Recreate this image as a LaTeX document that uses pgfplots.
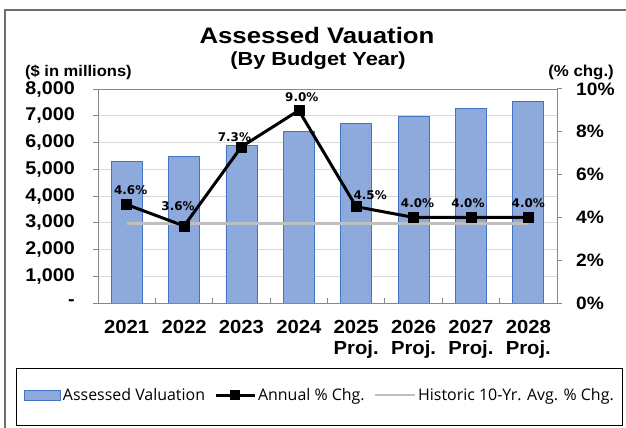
\documentclass[border=0pt]{standalone}
\usepackage{pgfplots}
\pgfplotsset{compat=1.18}
\usepackage{pgfplotstable}
\usepackage{fontspec}
\setmainfont{Liberation Sans}
\newfontfamily\tfont{Liberation Sans}[FakeStretch=1.15]
\newfontfamily\tkfont{Liberation Sans}[FakeStretch=1.07]
\newfontfamily\lblfont{DejaVu Sans}
\newfontfamily\legfont{Open Sans}
\definecolor{barfill}{RGB}{142,169,219}
\definecolor{barline}{RGB}{68,114,196}
\definecolor{axgray}{RGB}{134,134,134}
\definecolor{gridgray}{RGB}{217,217,217}
\definecolor{histgray}{RGB}{191,191,191}
\definecolor{framegray}{RGB}{110,110,110}

\pgfplotstableread{
x val
0 5300
1 5490
2 5890
3 6420
4 6710
5 6980
6 7260
7 7550
}\bars

\pgfplotstableread{
x pct dx dy
0 4.6 4 14
1 3.6 -6 20
2 7.3 -7 10
3 9.0 3 13
4 4.5 14 12
5 4.0 4 14
6 4.0 -3 14
7 4.0 0 14
}\pcts

\pgfplotstableread{
x h
0 3.7
1 3.7
2 3.7
3 3.7
4 3.7
5 3.7
6 3.7
7 3.7
}\hist

\begin{document}
\begin{tikzpicture}[x=1bp,y=1bp]
\useasboundingbox (0,0) rectangle (626,427);
\draw[framegray, line width=2.5bp] (5,-10) -- (5,417) -- (640,417);

\node[font=\tfont\bfseries\fontsize{22.5}{27}\selectfont] at (317,392) {Assessed Vauation};
\node[font=\tfont\bfseries\fontsize{19}{23}\selectfont] at (318,366) {(By Budget Year)};
\node[font=\tkfont\bfseries\fontsize{15.5}{18}\selectfont, anchor=west, inner sep=0pt] at (25,355) {(\$ in millions)};
\node[font=\tkfont\bfseries\fontsize{15.8}{18}\selectfont, anchor=east, inner sep=0pt] at (614,355) {(\% chg.)};

\begin{axis}[
  at={(98bp,124bp)}, anchor=south west,
  scale only axis, width=459bp, height=214bp,
  xmin=-0.5, xmax=7.5, ymin=0, ymax=8000,
  axis line style={axgray, line width=1bp},
  tick style={axgray, line width=1bp},
  tick align=outside, major tick length=5bp,
  xtick pos=bottom, ytick pos=left,
  ytick={0,1000,...,8000},
  yticklabels={-,{1,000},{2,000},{3,000},{4,000},{5,000},{6,000},{7,000},{8,000}},
  ymajorgrids, major grid style={gridgray, line width=0.9bp},
  xtick={0,...,7},
  xticklabels={2021,2022,2023,2024,{2025\\Proj.},{2026\\Proj.},{2027\\Proj.},{2028\\Proj.}},
  major x tick style={draw=none},
  xticklabel style={font=\tkfont\bfseries\fontsize{19}{21}\selectfont, align=center, anchor=north, inner sep=0pt, yshift=-12bp},
  yticklabel style={font=\tkfont\bfseries\fontsize{18.5}{20}\selectfont, anchor=east, inner sep=0pt, xshift=-18bp},
]
\addplot[ybar, bar width=31bp, fill=barfill, draw=barline, line width=0.7bp] table[x=x,y=val]{\bars};
\end{axis}

% inward category separator ticks on the x axis
\begin{axis}[
  at={(98bp,124bp)}, anchor=south west,
  scale only axis, width=459bp, height=214bp,
  xmin=-0.5, xmax=7.5, ymin=0, ymax=8000,
  axis x line*=bottom, axis y line=none,
  axis line style={axgray, line width=1bp, -},
  tick style={axgray, line width=1bp},
  tick align=inside, major tick length=5.5bp,
  xtick={0.5,1.5,...,6.5}, xticklabels={},
]
\end{axis}

\begin{axis}[
  at={(98bp,124bp)}, anchor=south west,
  scale only axis, width=459bp, height=214bp,
  xmin=-0.5, xmax=7.5, ymin=0, ymax=10,
  axis x line=none, axis y line*=right,
  axis line style={axgray, line width=1bp},
  tick style={axgray, line width=1bp},
  tick align=outside, major tick length=5bp,
  ytick={0,2,...,10},
  yticklabels={0\%,2\%,4\%,6\%,8\%,10\%},
  yticklabel style={font=\tkfont\bfseries\fontsize{18}{20}\selectfont, anchor=west, inner sep=0pt, xshift=14bp},
  clip=false,
  legend columns=-1,
  legend style={at={(-0.1613,-0.4299)}, anchor=west, draw=none, fill=none, inner sep=0pt,
    font=\legfont\fontsize{16}{19}\selectfont,
    nodes={inner sep=2bp},
    /tikz/every even column/.append style={column sep=7bp}},
  legend cell align=left,
]
\addlegendimage{legend image code/.code={\draw[fill=barfill, draw=barline, line width=0.8bp] (0bp,-5bp) rectangle (36bp,5bp);}}
\addlegendentry{Assessed Valuation}
\addlegendimage{legend image code/.code={\draw[black, line width=3bp] (0bp,0bp) -- (39bp,0bp); \fill[black] (15bp,-4.5bp) rectangle (24bp,4.5bp);}}
\addlegendentry{Annual \% Chg.}
\addlegendimage{legend image code/.code={\draw[histgray, line width=2.5bp] (0bp,0bp) -- (40bp,0bp);}}
\addlegendentry{Historic 10-Yr. Avg. \% Chg.}

\addplot[forget plot, histgray, line width=3bp] table[x=x,y=h]{\hist};
\addplot[forget plot, black, line width=3bp, mark=square*, mark size=5bp,
  mark options={solid, fill=black, line width=0.5bp},
  point meta=explicit,
  visualization depends on={\thisrow{dx}\as\dx},
  visualization depends on={\thisrow{dy}\as\dy},
  nodes near coords={\pgfmathprintnumber[fixed,fixed zerofill,precision=1,assume math mode=true]{\pgfplotspointmeta}\%},
  every node near coord/.append style={font=\lblfont\bfseries\fontsize{12}{14}\selectfont, text=black, anchor=center, inner sep=0pt, xshift=\dx bp, yshift=\dy bp},
] table[x=x,y=pct,meta=pct]{\pcts};
\end{axis}

\draw[black, line width=1bp] (16,2) rectangle (622,59);
\end{tikzpicture}
\end{document}
